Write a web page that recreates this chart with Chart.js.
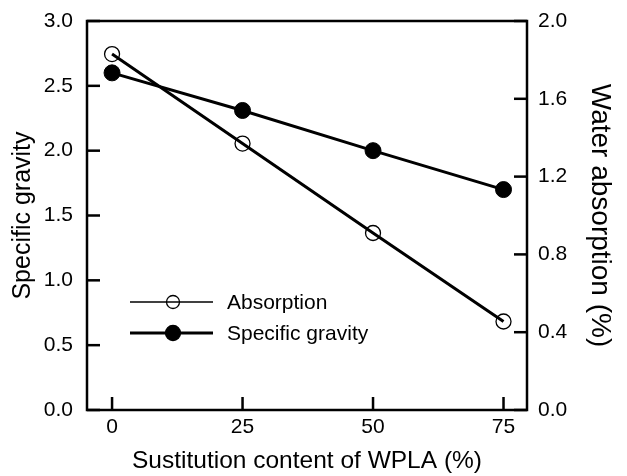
<!DOCTYPE html>
<html>
<head>
<meta charset="utf-8">
<script src="https://cdn.jsdelivr.net/npm/chart.js@4/dist/chart.umd.min.js"></script>
<style>
  html, body { margin: 0; padding: 0; background: #fff; }
  #wrap { width: 627px; height: 476px; }
</style>
</head>
<body>
<div id="wrap"><canvas id="chart" width="627" height="476"></canvas></div>
<script>
// WPLA substitution content (%)
const contents = [0, 25, 50, 75];
// Water absorption (%) - right axis
const absorption = [1.83, 1.37, 0.91, 0.455];
// Specific gravity - left axis
const specificGravity = [2.60, 2.31, 2.00, 1.70];
const xTicks = [0, 25, 50, 75];
const leftTicks = [0, 0.5, 1.0, 1.5, 2.0, 2.5, 3.0];
const rightTicks = [0, 0.4, 0.8, 1.2, 1.6, 2.0];

const FONT = '"Liberation Sans", Arial, sans-serif';

const toPoints = (xs, ys) => xs.map((x, i) => ({ x: x, y: ys[i] }));

// Box, inward ticks and in-plot legend
const framePlugin = {
    id: 'frame',
    afterDraw(chart) {
        const ctx = chart.ctx;
        const a = chart.chartArea;
        const sx = chart.scales.x, sy = chart.scales.y, sy2 = chart.scales.y2;
        const tick = 13, w = 2.5;
        ctx.save();
        ctx.strokeStyle = '#000';
        ctx.fillStyle = '#000';
        ctx.lineWidth = w;
        ctx.strokeRect(a.left, a.top, a.right - a.left, a.bottom - a.top);

        // inward tick marks
        xTicks.forEach(v => {
            const px = sx.getPixelForValue(v);
            ctx.fillRect(px - w / 2, a.bottom - tick, w, tick);
        });
        leftTicks.forEach(v => {
            const py = sy.getPixelForValue(v);
            ctx.fillRect(a.left, py - w / 2, tick, w);
        });
        rightTicks.forEach(v => {
            const py = sy2.getPixelForValue(v);
            ctx.fillRect(a.right - tick, py - w / 2, tick, w);
        });

        // legend
        const rows = [
            { ds: chart.data.datasets[0], y: 302, lw: 1.5, r: 6.5 },
            { ds: chart.data.datasets[1], y: 333, lw: 3, r: 7.5 }
        ];
        rows.forEach(row => {
            ctx.beginPath();
            ctx.lineWidth = row.lw;
            ctx.moveTo(130, row.y);
            ctx.lineTo(213, row.y);
            ctx.stroke();
            ctx.beginPath();
            ctx.arc(173, row.y, row.r, 0, Math.PI * 2);
            if (row.ds.pointBackgroundColor !== 'transparent') {
                ctx.fillStyle = row.ds.pointBackgroundColor;
                ctx.fill();
            }
            ctx.lineWidth = 1.3;
            ctx.stroke();
            ctx.fillStyle = '#000';
            ctx.font = '21px ' + FONT;
            ctx.textBaseline = 'middle';
            ctx.textAlign = 'left';
            ctx.fillText(row.ds.label, 227, row.y + 1);
        });
        ctx.restore();
    }
};

// fixed axis box sizes, no extra label padding above/below the plot
const fitY = width => s => {
    s.width = width;
    s.paddingTop = 0;
    s.paddingBottom = 0;
};

new Chart(document.getElementById('chart'), {
    type: 'line',
    data: {
        datasets: [
            {
                label: 'Absorption',
                data: toPoints(contents, absorption),
                yAxisID: 'y2',
                borderColor: '#000',
                borderWidth: 3,
                pointRadius: 7.5,
                pointBorderWidth: 1.3,
                pointBorderColor: '#000',
                pointBackgroundColor: 'transparent',
                order: 1
            },
            {
                label: 'Specific gravity',
                data: toPoints(contents, specificGravity),
                yAxisID: 'y',
                borderColor: '#000',
                borderWidth: 3,
                pointRadius: 8,
                pointBorderWidth: 1,
                pointBorderColor: '#000',
                pointBackgroundColor: '#000',
                order: 2
            }
        ]
    },
    options: {
        responsive: false,
        animation: false,
        devicePixelRatio: 1,
        layout: { padding: { top: 21, left: 0, right: 0, bottom: 0 } },
        plugins: {
            legend: { display: false },
            tooltip: { enabled: false }
        },
        scales: {
            x: {
                type: 'linear',
                min: -4.8,
                max: 79.5,
                afterBuildTicks: s => { s.ticks = xTicks.map(v => ({ value: v })); },
                afterFit: s => { s.height = 66; },
                grid: { display: false, drawTicks: false },
                border: { display: false },
                ticks: { color: '#000', padding: 5, font: { family: FONT, size: 21 } },
                title: {
                    display: true,
                    text: 'Sustitution content of WPLA (%)',
                    color: '#000',
                    font: { family: FONT, size: 24.5 },
                    padding: { top: 0, bottom: 0 }
                }
            },
            y: {
                position: 'left',
                min: 0,
                max: 3,
                afterBuildTicks: s => { s.ticks = leftTicks.map(v => ({ value: v })); },
                ticks: {
                    color: '#000',
                    padding: 14,
                    font: { family: FONT, size: 21 },
                    callback: v => Number(v).toFixed(1)
                },
                afterFit: fitY(87),
                grid: { display: false, drawTicks: false },
                border: { display: false },
                title: {
                    display: true,
                    text: 'Specific gravity',
                    color: '#000',
                    font: { family: FONT, size: 25 },
                    padding: { top: 8, bottom: 0 }
                }
            },
            y2: {
                position: 'right',
                min: 0,
                max: 2,
                afterBuildTicks: s => { s.ticks = rightTicks.map(v => ({ value: v })); },
                ticks: {
                    color: '#000',
                    padding: 11,
                    font: { family: FONT, size: 21 },
                    callback: v => Number(v).toFixed(1)
                },
                afterFit: fitY(100),
                grid: { display: false, drawTicks: false },
                border: { display: false },
                title: {
                    display: true,
                    text: 'Water absorption (%)',
                    color: '#000',
                    font: { family: FONT, size: 28 },
                    padding: { top: 10, bottom: 0 }
                }
            }
        }
    },
    plugins: [framePlugin]
});
</script>
</body>
</html>
